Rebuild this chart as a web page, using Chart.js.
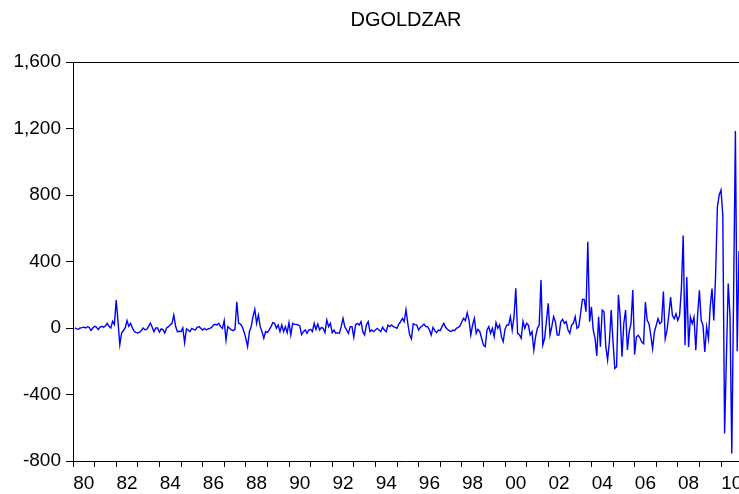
<!DOCTYPE html>
<html>
<head>
<meta charset="utf-8">
<script src="https://cdn.jsdelivr.net/npm/chart.js@4"></script>
<style>
  body { margin: 0; background: #fff; }
  #wrap { width: 739px; height: 494px; }
</style>
</head>
<body>
<div id="wrap"><canvas id="chart" width="739" height="494"></canvas></div>
<script>
// monthly values, first point is 1980M2
const values1980s = [
    0, -5, -8, 0, 2, 5, 0, 8, 4, -15, 0,
    10, 5, -10, 5, 10, 5, 12, 28, 10, 0, 40, 20,
    168, 40, -100, -30, -15, 0, 45, 10, 28, 0, -20, -28,
    -30, -25, -15, 0, -10, -8, 10, 30, 5, -22, 0, 0,
    -25, -5, -10, -30, 0, 8, 18, 28, 78, 10, -22, -20,
    -22, 0, -88, -5, -12, -22, -2, -8, -12, 4, 8, -2,
    -12, -2, -12, -6, -2, 4, 18, 22, 18, 28, 8, -2,
    44, -72, 8, -2, -12, -16, -8, 158, 28, 24, 8, -22,
    -62, -112, -22, 8, 68, 112, 28, 78, 8, -22, -62, -22,
    -28, -12, 8, 32, 28, -2, 18, -22, 18, -22, 8, -28
];
const values1990s = [
    32, -42, 28, 22, 22, 18, 12, -40, -22, -12, -32, -12,
    -8, -22, 28, -8, 24, -12, 4, -2, -28, 48, 8, 28,
    -28, -12, -32, -28, -32, 8, 58, 8, -12, -32, 8, 8,
    -55, 20, 28, 18, 38, -22, -42, 18, 38, -22, -12, -22,
    -12, -2, -12, -22, 4, -12, -22, 18, 8, 18, 8, 4,
    -2, 24, 38, 58, 38, 110, 28, -40, -65, 25, 20, 18,
    -12, 4, 12, 24, 8, 8, -12, -42, 4, -16, -28, -12,
    -16, 8, 28, 4, -8, -16, -22, -12, -16, -2, 4, 12,
    38, 58, 44, 92, 48, -42, 18, 58, -32, -8, -22, -62,
    -102, -112, -12, 8, -32, -2, -52, 32, -2, 18, -52, -82
];
const values2000s = [
    -8, 18, 18, 68, -12, 68, 239, -32, -40, -62, 40, -2,
    28, 18, -42, -22, -132, -52, -2, 18, 289, -102, -62, 40,
    148, -42, 8, 68, 38, -42, -42, 38, 52, 28, 38, -12,
    -32, 18, 28, 68, -2, 8, 88, 172, 172, 98, 519, 38,
    128, -12, -60, -168, 68, -112, 108, 98, -112, -192, -82, 108,
    -82, -243, -233, 199, 68, -172, 28, 108, -132, -22, 28, 229,
    -160, -54, -44, -60, -84, -94, 156, 46, 26, -44, -124, -24,
    16, 56, 26, 36, 220, -64, -14, 76, 186, 76, 56, 86,
    46, 76, 237, 557, -104, 307, -114, 66, 26, 66, -134, 76,
    227, 46, 16, -144, 6, -64, 126, 237, 46, 317, 729, 800,
    830, 680, -635, -180, 268, 76, -755, 200, 1185, -140, 463
];
const yearLabels = ['80', '82', '84', '86', '88', '90', '92', '94', '96', '98',
                    '00', '02', '04', '06', '08', '10'];
const yTicks = [-800, -400, 0, 400, 800, 1200, 1600];

const allValues = values1980s.concat(values1990s, values2000s);
const points = allValues.map((v, k) => ({ x: k + 1, y: v }));
const lastMonth = allValues.length;

const frame = {
    id: 'frame',
    afterDraw(chart) {
        const a = chart.chartArea;
        const ctx = chart.ctx;
        ctx.save();
        ctx.strokeStyle = '#000';
        ctx.lineWidth = 1;
        ctx.beginPath();
        ctx.moveTo(a.left, a.top + 0.5);
        ctx.lineTo(a.right, a.top + 0.5);
        ctx.stroke();
        ctx.restore();
    }
};

new Chart(document.getElementById('chart'), {
    type: 'line',
    data: {
        datasets: [{
            label: 'DGOLDZAR',
            data: points,
            borderColor: '#0000ff',
            borderWidth: 1.4,
            pointRadius: 0,
            tension: 0,
            fill: false
        }]
    },
    options: {
        responsive: false,
        animation: false,
        layout: { padding: { left: 0, right: 0, bottom: 0 } },
        plugins: {
            legend: { display: false },
            tooltip: { enabled: false },
            title: {
                display: true,
                fullSize: false,
                text: 'DGOLDZAR',
                color: '#000',
                font: { family: 'Liberation Sans, Arial, sans-serif', size: 20, weight: 'normal' },
                padding: { top: 8, bottom: 30 }
            }
        },
        scales: {
            x: {
                type: 'linear',
                min: 0,
                max: lastMonth,
                afterBuildTicks(scale) {
                    const t = [];
                    for (let m = 0; m <= lastMonth; m += 6) t.push({ value: m });
                    scale.ticks = t;
                },
                afterFit(scale) {
                    scale.height = 33;
                    scale.paddingLeft = 0;
                    scale.paddingRight = 0;
                },
                border: { display: true, color: '#000', width: 1 },
                grid: {
                    drawOnChartArea: false,
                    drawTicks: true,
                    tickLength: 6,
                    tickWidth: 1,
                    tickColor: ctx => (ctx.tick && ctx.tick.value % 12 === 0 ? '#000' : 'rgba(0,0,0,0)')
                },
                ticks: {
                    autoSkip: false,
                    maxRotation: 0,
                    padding: 5,
                    color: '#000',
                    font: { family: 'Liberation Sans, Arial, sans-serif', size: 19 },
                    callback: value => (value % 24 === 6 ? yearLabels[(value - 6) / 24] : '')
                }
            },
            y: {
                min: -800,
                max: 1600,
                afterBuildTicks(scale) {
                    scale.ticks = yTicks.map(v => ({ value: v }));
                },
                afterFit(scale) {
                    scale.width = 73;
                },
                border: { display: true, color: '#000', width: 1 },
                grid: {
                    drawOnChartArea: false,
                    drawTicks: true,
                    tickLength: 7,
                    tickColor: '#000'
                },
                ticks: {
                    padding: 5,
                    color: '#000',
                    font: { family: 'Liberation Sans, Arial, sans-serif', size: 19 },
                    callback: value => value.toLocaleString('en-US')
                }
            }
        }
    },
    plugins: [frame]
});
</script>
</body>
</html>
